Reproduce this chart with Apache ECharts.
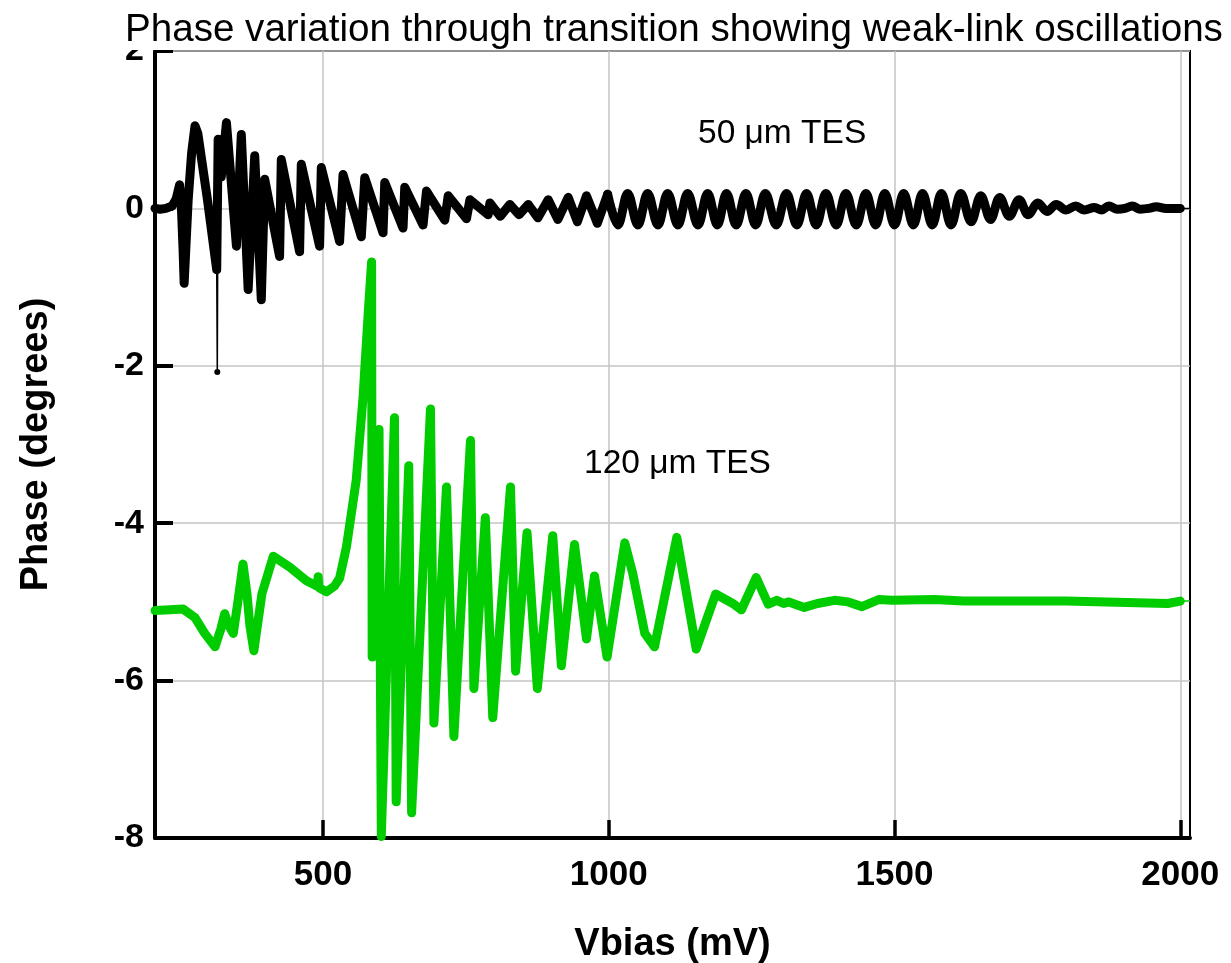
<!DOCTYPE html>
<html>
<head>
<meta charset="utf-8">
<script src="https://cdn.jsdelivr.net/npm/echarts@6/dist/echarts.min.js"></script>
<style>
html,body{margin:0;padding:0;background:#fff;}
#chart{width:1231px;height:963px;}
</style>
</head>
<body>
<div id="chart"></div>
<script>
// ---------- text ----------
const titleText = 'Phase variation through transition showing weak-link oscillations';
const xName = 'Vbias (mV)';
const yName = 'Phase (degrees)';
const label50 = '50 \u03bcm TES';
const label120 = '120 \u03bcm TES';

// ---------- axes ----------
const xMin = 206, xMax = 2017;
const xTicks = [500, 1000, 1500, 2000];
const yMin = -8, yMax = 2, yStep = 2;         // ticks -8..2

// ---------- 50 um TES (black) : [Vbias mV, phase deg] ----------
const tes50Start = [
  [206,0.00],[215,-0.01],[225,0.00],[236,0.03],[243,0.12],[249,0.30],[252,0.05],[255,-0.50],[257,-0.95],
  [260,-0.50],[264,0.10],[270,0.70],[276,1.05],[281,0.95],[298,0.10],[314,-0.78],[316.5,0.88],[322,0.40],
  [331,1.09],[348.5,-0.48],[357,0.94],[369,-1.03],[380.5,0.67],[392,-1.16],[398,0.37],[424,-0.61],
  [427,0.62],[459,-0.55],[462,0.56],[494,-0.48],[497,0.52],[529,-0.42],[535,0.43],[567,-0.36],[573,0.39],
  [605,-0.31],[608,0.33],[640,-0.25],[643,0.27],[675,-0.21],[681,0.22],[713,-0.15],[719,0.16],[751,-0.13],
  [757,0.11],[789,-0.08],[792,0.07],[810,-0.10],[827,0.05],[843,-0.08],[859,0.05],[876,-0.12],[894,0.11],
  [911,-0.14],[929,0.14],[945,-0.17],[961,0.16],[980,-0.19],[998,0.18]
];
const tes50Ripple = [
  [998,0.18],[1016,-0.21],[1033,0.19],[1051,-0.21],[1068,0.19],[1086,-0.21],[1103,0.19],[1121,-0.21],
  [1138,0.19],[1156,-0.21],[1173,0.19],[1190,-0.21],[1206,0.19],[1223,-0.21],[1240,0.19],[1257,-0.21],
  [1274,0.19],[1293,-0.21],[1311,0.19],[1329,-0.21],[1346,0.19],[1363,-0.21],[1380,0.19],[1398,-0.21],
  [1415,0.19],[1433,-0.21],[1450,0.19],[1467,-0.21],[1483,0.19],[1500,-0.21],[1516,0.19],[1533,-0.21],
  [1549,0.19],[1566,-0.21],[1582,0.19],[1599,-0.21],[1616,0.19],[1634,-0.17],[1651,0.16],[1668,-0.14],
  [1684,0.14],[1701,-0.10],[1718,0.11],[1734,-0.08],[1751,0.07],[1767,-0.04],[1783,0.05],[1800,-0.02],
  [1817,0.03],[1832,-0.02],[1850,0.01],[1862,-0.02],[1875,0.03],[1890,-0.01],[1903,0.00],[1916,0.03],
  [1930,-0.01],[1945,0.00],[1958,0.02],[1975,0.00],[2000,0.00]
];
const tes50Spike = [[314,-0.78],[315,-2.08],[316.5,0.88]];
const tes50Tail = [[2000,0.00],[2017,0.00]];

// ---------- 120 um TES (green) : [Vbias mV, phase deg] ----------
const tes120 = [
  [206,-5.11],[232,-5.10],[255,-5.09],[276,-5.20],[293,-5.40],[311,-5.57],[321,-5.35],[328,-5.15],[335,-5.30],
  [343,-5.40],[351,-5.00],[360,-4.52],[367,-4.90],[372,-5.30],[379,-5.62],[393,-4.90],[413,-4.42],[442,-4.56],
  [471,-4.73],[490,-4.80],[491.5,-4.68],[493,-4.82],[506,-4.87],[520,-4.80],[529,-4.70],[541,-4.30],[558,-3.46],
  [570,-2.40],[579,-1.34],[585,-0.68],
  [586,-5.70],[598,-2.81],[602,-7.98],[625,-2.66],[628,-7.54],[650,-3.27],[655,-7.68],[688,-2.55],[694,-6.54],
  [716,-3.54],[729,-6.71],[758,-2.95],[764,-6.10],[784,-3.93],[797,-6.47],[828,-3.54],[837,-5.88],[857,-4.12],
  [875,-6.10],
  [902,-4.16],[917,-5.81],[940,-4.27],[961,-5.47],[975,-4.67],[997,-5.70],[1028,-4.25],[1042,-4.64],[1063,-5.40],
  [1080,-5.57],[1119,-4.18],[1153,-5.60],[1187,-4.90],[1217,-5.02],[1232,-5.10],[1258,-4.69],[1279,-5.03],
  [1294,-4.98],[1306,-5.02],[1315,-5.00],[1342,-5.07],[1365,-5.02],[1395,-4.98],[1419,-5.00],[1443,-5.06],
  [1472,-4.97],[1496,-4.98],[1570,-4.97],[1620,-4.99],[1800,-4.99],[1978,-5.02],[2000,-4.99]
];
const tes120Tail = [[2000,-4.99],[2017,-4.99]];

// ---------- styling ----------
const FONT = "'Liberation Sans', Arial, Helvetica, sans-serif";
const BLACK = '#000000';
const GREEN = '#00cc00';
const GRIDC = '#c4c4c4';

const chart = echarts.init(document.getElementById('chart'), null, {renderer: 'canvas'});

function thick(color, data, smooth) {
  return {
    type: 'line', data: data, showSymbol: false, smooth: smooth || false,
    silent: true, clip: true, z: 4,
    lineStyle: {color: color, width: 9, cap: 'round', join: 'round'},
    itemStyle: {color: color}
  };
}
function thin(color, data, showSym) {
  return {
    type: 'line', data: data, showSymbol: !!showSym, symbol: 'circle', symbolSize: 6,
    silent: true, clip: true, z: 4,
    lineStyle: {color: color, width: 1.5},
    itemStyle: {color: color}
  };
}

// vertical grid lines at the x tick values, placed through the x axis scale
const xGridSeries = {
  type: 'line', data: [], silent: true, z: 1,
  markLine: {
    z: 1, silent: true, symbol: ['none', 'none'], animation: false,
    label: {show: false},
    lineStyle: {color: GRIDC, width: 1.5, type: 'solid'},
    data: xTicks.map(v => ({xAxis: v}))
  }
};

const option = {
  animation: false,
  backgroundColor: '#ffffff',
  title: {
    text: titleText, left: 121, top: 8, padding: [2, 4, 0, 4],
    backgroundColor: '#ffffff',
    textStyle: {fontFamily: FONT, fontSize: 38.6, fontWeight: 'normal', color: BLACK, lineHeight: 40}
  },
  grid: {
    left: 155, right: 41, top: 51, bottom: 125,
    show: true, borderColor: BLACK, borderWidth: 2,
    containLabel: false, outerBoundsMode: 'none'
  },
  xAxis: {
    type: 'value', min: xMin, max: xMax, z: 3,
    name: xName, nameLocation: 'middle', nameGap: 88,
    nameTextStyle: {fontFamily: FONT, fontSize: 38, fontWeight: 'bold', color: BLACK},
    axisLine: {show: true, onZero: false, lineStyle: {color: BLACK, width: 4}},
    axisTick: {show: true, inside: true, length: 18, customValues: xTicks, lineStyle: {color: BLACK, width: 3.5}},
    axisLabel: {show: true, customValues: xTicks, margin: 20,
      formatter: function (v) { return String(v); },
      fontFamily: FONT, fontSize: 35, fontWeight: 'bold', color: BLACK},
    splitLine: {show: false}
  },
  yAxis: {
    type: 'value', min: yMin, max: yMax, interval: yStep, z: 3,
    name: yName, nameLocation: 'middle', nameGap: 99,
    nameTextStyle: {fontFamily: FONT, fontSize: 38, fontWeight: 'bold', color: BLACK},
    axisLine: {show: true, onZero: false, lineStyle: {color: BLACK, width: 4}},
    axisTick: {show: true, inside: true, length: 18, lineStyle: {color: BLACK, width: 4}},
    axisLabel: {show: true, margin: 11, formatter: function (v) { return String(v); },
      fontFamily: FONT, fontSize: 34, fontWeight: 'bold', color: BLACK},
    splitLine: {show: true, lineStyle: {color: GRIDC, width: 1.5}}
  },
  graphic: [
    {type: 'text', silent: true, z: 100,
     style: {text: label50, x: 698, y: 134, font: '33.5px ' + FONT, fill: BLACK, textAlign: 'left', textVerticalAlign: 'middle', verticalAlign: 'middle'}},
    {type: 'text', silent: true, z: 100,
     style: {text: label120, x: 584, y: 464, font: '33.5px ' + FONT, fill: BLACK, textAlign: 'left', textVerticalAlign: 'middle', verticalAlign: 'middle'}}
  ],
  series: [
    xGridSeries,
    thin(BLACK, tes50Tail),
    thin(GREEN, tes120Tail),
    thin(BLACK, tes50Spike, true),
    thick(BLACK, tes50Start),
    thick(BLACK, tes50Ripple, 0.35),
    thick(GREEN, tes120)
  ]
};
chart.setOption(option);
</script>
</body>
</html>
